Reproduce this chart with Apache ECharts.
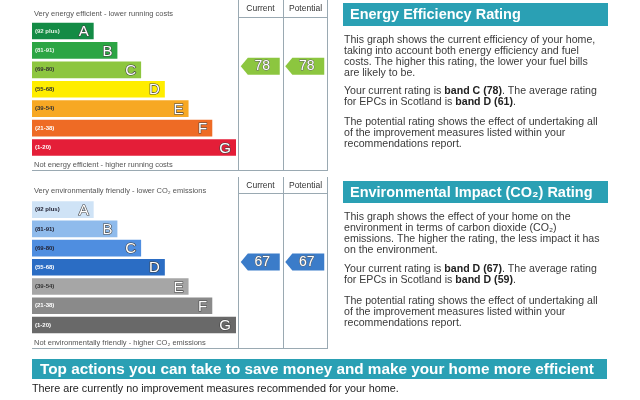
<!DOCTYPE html>
<html><head><meta charset="utf-8">
<script src="https://cdn.jsdelivr.net/npm/echarts@6/dist/echarts.min.js"></script>
<style>html,body{margin:0;padding:0;background:#fff}#c{width:640px;height:400px}</style>
</head><body><div id="c"></div>
<script>
// ---- data ----
const bands = ['A','B','C','D','E','F','G'];
const ranges = ['(92 plus)','(81-91)','(69-80)','(55-68)','(39-54)','(21-38)','(1-20)'];
const bandLo = [92,81,69,55,39,21,1];
const bandHi = [100,91,80,68,54,38,20];
const barLengths = [26,36,46,56,66,76,86];
const columns = ['Current','Potential'];
const energyRatings = [78,78];
const envRatings = [67,67];
const energyAverage = 61;
const envAverage = 59;
const energyColors = ['#138b45','#2ca544','#8dc63f','#ffed00','#f7a823','#ee6b25','#e41e38'];
const envColors = ['#cfe3f6','#8fbbec','#4f8ee0','#2b6dc4','#a6a6a6','#8a8a8a','#696969'];
const energyRangeColors = ['#e8f5e8','#e8f5e8','#333','#333','#333','#fff','#fff'];
const envRangeColors = ['#223','#223','#223','#fff','#333','#fff','#fff'];
const arrowColors = {energy:'#8cc63f', env:'#3b7cc9'};

function bandIndex(v){ for(let i=0;i<bands.length;i++){ if(v>=bandLo[i] && v<=bandHi[i]) return i; } return 6; }
function arrowPos(v){ const i=bandIndex(v); return i+0.15+(bandHi[i]-v)/(bandHi[i]-bandLo[i]+1); }

const chart = echarts.init(document.getElementById('c'));
const FONT = 'Liberation Sans, Arial, sans-serif';
const TEAL = '#2aa0b4';
const LINE = '#9aa9b2';

const grids = [
  {left:32, top:21.3, width:204, height:135.9},
  {left:238, top:21.3, width:89, height:135.9},
  {left:32, top:200, width:204, height:134.7},
  {left:238, top:200, width:89, height:134.7}
];
function barX(i){return {gridIndex:i,type:'value',min:0,max:86,show:false};}
function barY(i){return {gridIndex:i,type:'category',data:bands,inverse:true,show:false};}
function arrX(i){return {gridIndex:i,type:'category',data:columns,show:false};}
function arrY(i){return {gridIndex:i,type:'value',min:0,max:7,inverse:true,show:false};}

function barSeries(xi, colors, rangeColors){
  return [{
    type:'bar', xAxisIndex:xi, yAxisIndex:xi, barCategoryGap:'14%', silent:true,
    data: barLengths.map((v,i)=>({value:v,itemStyle:{color:colors[i]}})),
    label:{show:true,position:'insideRight',offset:[0,1],formatter:p=>bands[p.dataIndex],
      fontFamily:FONT,fontSize:15,color:'#fff',textBorderColor:'#444',textBorderWidth:1.2}
  },{
    type:'bar', xAxisIndex:xi, yAxisIndex:xi, barCategoryGap:'14%', barGap:'-100%', silent:true,
    data: barLengths.map((v,i)=>({value:v,itemStyle:{color:'transparent'},
      label:{color:rangeColors[i]}})),
    label:{show:true,position:'insideLeft',offset:[-2,0],formatter:p=>ranges[p.dataIndex],
      fontFamily:FONT,fontSize:6,fontWeight:'bold'}
  }];
}
function arrowSeries(xi, vals, color){
  return {
    type:'scatter', xAxisIndex:xi, yAxisIndex:xi, silent:true,
    symbol:'path://M0,5 L4,0 L22,0 L22,10 L4,10 Z', symbolSize:[39,17], symbolKeepAspect:false,
    itemStyle:{color:color,opacity:1},
    data: vals.map((v,i)=>[columns[i], arrowPos(v), v]),
    label:{show:true,position:'inside',offset:[2,0],formatter:p=>String(p.value[2]),
      fontFamily:FONT,fontSize:14,color:'#fff',textBorderColor:'#666',textBorderWidth:1}
  };
}

function bandOf(v){return bands[bandIndex(v)];}
const smallTxt = {fontFamily:FONT,fontSize:7.5,fill:'#555'};
const PF = 10.6;
const paraStyle = (text)=>({text, fontFamily:FONT, fontSize:PF, fill:'#3a3a3a', lineHeight:11.3,
  rich:{b:{fontFamily:FONT,fontSize:PF,fontWeight:'bold',fill:'#222',lineHeight:11.3}}});
const headStyle = (text)=>({text,fontFamily:FONT,fontSize:8.5,fill:'#333',align:'center',verticalAlign:'middle'});

function line(x1,y1,x2,y2){return {type:'line',shape:{x1,y1,x2,y2},style:{stroke:LINE,lineWidth:1},silent:true};}

const graphic = [
  // energy frame
  line(238.5,0,238.5,170), line(283.5,0,283.5,170), line(327.5,0,327.5,170),
  line(238,17.5,328,17.5), line(32,170.5,328,170.5),
  {type:'text',x:260.5,y:8.5,style:headStyle(columns[0])},
  {type:'text',x:305.5,y:8.5,style:headStyle(columns[1])},
  {type:'text',x:34,y:14,style:Object.assign({text:'Very energy efficient - lower running costs',verticalAlign:'middle'},smallTxt)},
  {type:'text',x:34,y:164.5,style:Object.assign({text:'Not energy efficient - higher running costs',verticalAlign:'middle'},smallTxt)},
  // env frame
  line(238.5,177,238.5,348), line(283.5,177,283.5,348), line(327.5,177,327.5,348),
  line(238,193.5,328,193.5), line(32,348.5,328,348.5),
  {type:'text',x:260.5,y:185.5,style:headStyle(columns[0])},
  {type:'text',x:305.5,y:185.5,style:headStyle(columns[1])},
  {type:'text',x:34,y:191,style:Object.assign({text:'Very environmentally friendly - lower CO\u2082 emissions',verticalAlign:'middle'},smallTxt)},
  {type:'text',x:34,y:342.5,style:Object.assign({text:'Not environmentally friendly - higher CO\u2082 emissions',verticalAlign:'middle'},smallTxt)},
  // right panel: energy
  {type:'rect',shape:{x:343,y:3,width:265,height:23},style:{fill:TEAL},silent:true},
  {type:'text',x:350,y:15,style:{text:'Energy Efficiency Rating',fontFamily:FONT,fontSize:14.5,fontWeight:'bold',fill:'#fff',verticalAlign:'middle'}},
  {type:'text',x:344,y:34,style:paraStyle('This graph shows the current efficiency of your home,\ntaking into account both energy efficiency and fuel\ncosts. The higher this rating, the lower your fuel bills\nare likely to be.')},
  {type:'text',x:344,y:85,style:paraStyle('Your current rating is {b|band '+bandOf(energyRatings[0])+' ('+energyRatings[0]+')}. The average rating\nfor EPCs in Scotland is {b|band '+bandOf(energyAverage)+' ('+energyAverage+')}.')},
  {type:'text',x:344,y:116,style:paraStyle('The potential rating shows the effect of undertaking all\nof the improvement measures listed within your\nrecommendations report.')},
  // right panel: env
  {type:'rect',shape:{x:343,y:181,width:265,height:22},style:{fill:TEAL},silent:true},
  {type:'text',x:350,y:192.5,style:{text:'Environmental Impact (CO\u2082) Rating',fontFamily:FONT,fontSize:14.5,fontWeight:'bold',fill:'#fff',verticalAlign:'middle'}},
  {type:'text',x:344,y:211,style:paraStyle('This graph shows the effect of your home on the\nenvironment in terms of carbon dioxide (CO\u2082)\nemissions. The higher the rating, the less impact it has\non the environment.')},
  {type:'text',x:344,y:263,style:paraStyle('Your current rating is {b|band '+bandOf(envRatings[0])+' ('+envRatings[0]+')}. The average rating\nfor EPCs in Scotland is {b|band '+bandOf(envAverage)+' ('+envAverage+')}.')},
  {type:'text',x:344,y:295,style:paraStyle('The potential rating shows the effect of undertaking all\nof the improvement measures listed within your\nrecommendations report.')},
  // bottom
  {type:'rect',shape:{x:32,y:359,width:575,height:20},style:{fill:TEAL},silent:true},
  {type:'text',x:40,y:369.5,style:{text:'Top actions you can take to save money and make your home more efficient',fontFamily:FONT,fontSize:15.3,fontWeight:'bold',fill:'#fff',verticalAlign:'middle'}},
  {type:'text',x:32,y:389,style:{text:'There are currently no improvement measures recommended for your home.',fontFamily:FONT,fontSize:10.8,fill:'#222',verticalAlign:'middle'}}
];

chart.setOption({
  animation:false,
  backgroundColor:'#fff',
  grid: grids,
  xAxis:[barX(0),arrX(1),barX(2),arrX(3)],
  yAxis:[barY(0),arrY(1),barY(2),arrY(3)],
  series:[
    ...barSeries(0, energyColors, energyRangeColors),
    arrowSeries(1, energyRatings, arrowColors.energy),
    ...barSeries(2, envColors, envRangeColors),
    arrowSeries(3, envRatings, arrowColors.env)
  ],
  graphic: graphic
});
</script>
</body></html>
